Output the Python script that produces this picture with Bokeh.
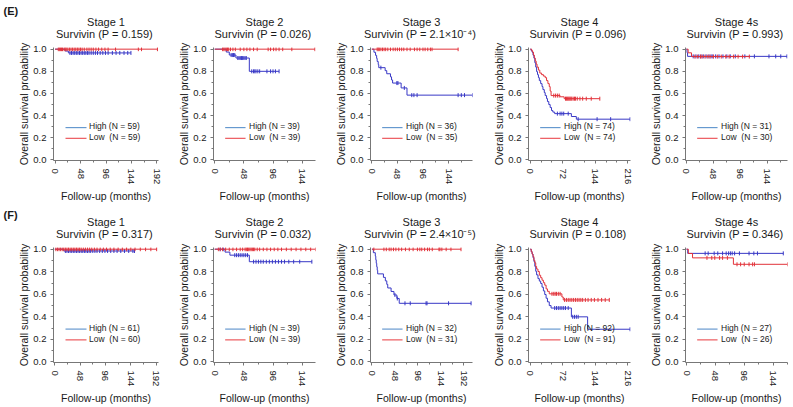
import math
from bokeh.plotting import figure
from bokeh.layouts import gridplot
from bokeh.models import (Range1d, SingleIntervalTicker, Legend, LegendItem, Title,
                          PrintfTickFormatter)
from bokeh.embed import file_html
from bokeh.resources import INLINE

FONT = "Liberation Sans"

# ---------------- data ----------------
STAGES = ["Stage 1", "Stage 2", "Stage 3", "Stage 4", "Stage 4s"]
P_E = ["0.159", "0.026", "2.1×10⁻⁴", "0.096", "0.993"]
P_F = ["0.317", "0.032", "2.4×10⁻⁵", "0.108", "0.346"]
N_HIGH_E = [59, 39, 36, 74, 31]
N_LOW_E = [59, 39, 35, 74, 30]
N_HIGH_F = [61, 39, 32, 92, 27]
N_LOW_F = [60, 39, 31, 91, 26]
X_MIN_E = [-3, -2, -2.5, -4, -1.7]
X_MAX_E = [195, 166, 189, 222, 180]
X_MIN_F = [-2.5, -2, -3, -4, -1.7]
X_MAX_F = [196.5, 166, 210, 222, 168]
X_TICK_STEP = [48, 48, 48, 72, 48]

# (E) row: event times (months), survival after each event, censor times
E1_HIGH_T = [19, 25]
E1_HIGH_S = [0.983, 0.966]
E1_HIGH_C = [28, 31, 34, 37, 40, 43, 46, 49, 52, 55, 58, 61, 64, 68, 72, 76, 80, 85, 90,
             95, 100, 108, 115, 122, 130, 137, 143]
E1_LOW_T = []
E1_LOW_S = []
E1_LOW_C = [6, 8, 10, 12, 14, 17, 19, 21, 24, 27, 30, 33, 36, 39, 42, 45, 48, 51, 55, 60,
            64, 68, 72, 77, 82, 88, 94, 100, 114, 157, 163, 193]

E2_HIGH_T = [19, 24, 35, 57]
E2_HIGH_S = [0.974, 0.947, 0.920, 0.800]
E2_HIGH_C = [27, 29, 31, 33, 38, 40, 42, 44, 46, 48, 50, 52, 61, 64, 66, 68, 71, 74, 86,
             92, 96, 100, 106]
E2_LOW_T = []
E2_LOW_S = []
E2_LOW_C = [13, 15, 17, 19, 21, 23, 26, 30, 34, 42, 48, 53, 58, 64, 70, 88, 92, 97, 101,
            106, 112, 127, 165]

E3_HIGH_T = [4, 7, 9, 10, 12, 13, 25, 28, 35, 37, 39, 55, 66]
E3_HIGH_S = [0.972, 0.944, 0.917, 0.889, 0.861, 0.833, 0.806, 0.778, 0.750, 0.722, 0.694,
             0.650, 0.585]
E3_HIGH_C = [17, 47, 49, 61, 75, 79, 85, 162, 168, 174, 189]
E3_LOW_T = []
E3_LOW_S = []
E3_LOW_C = [10, 12, 14, 17, 20, 23, 26, 30, 35, 40, 44, 48, 52, 56, 60, 66, 72, 80, 85,
            90, 96, 100, 105, 110, 113, 162]

E4_HIGH_T = [2, 4, 6, 8, 10, 12, 14, 16, 18, 20, 23, 26, 28, 31, 33, 36, 38, 41, 44, 47,
             50, 54, 91, 102]
E4_HIGH_S = [0.986, 0.973, 0.946, 0.919, 0.878, 0.838, 0.797, 0.770, 0.743, 0.716, 0.689,
             0.662, 0.635, 0.608, 0.581, 0.554, 0.527, 0.500, 0.473, 0.446, 0.432, 0.418,
             0.392, 0.368]
E4_HIGH_C = [60, 66, 70, 74, 84, 106, 148, 178, 221]
E4_LOW_T = [3, 5, 7, 9, 11, 13, 15, 18, 21, 25, 29, 33, 36, 39, 42, 44, 46, 66, 75]
E4_LOW_S = [0.986, 0.973, 0.946, 0.919, 0.892, 0.865, 0.838, 0.811, 0.784, 0.770, 0.757,
            0.743, 0.716, 0.689, 0.662, 0.622, 0.581, 0.570, 0.553]
E4_LOW_C = [52, 56, 60, 64, 78, 80, 82, 84, 86, 88, 90, 92, 95, 98, 100, 104, 110, 116,
            124, 135, 154]

E5_HIGH_T = [1, 2]
E5_HIGH_S = [0.968, 0.935]
E5_HIGH_C = [12, 17, 22, 26, 30, 35, 40, 44, 47, 52, 58, 65, 72, 78, 87, 104, 121, 147,
             159, 168, 179]
E5_LOW_T = [3, 9]
E5_LOW_S = [0.967, 0.933]
E5_LOW_C = [15, 20, 25, 28, 33, 38, 42, 48, 55, 62, 70, 76, 84, 92, 100, 112]

# (F) row
F1_HIGH_T = [17]
F1_HIGH_S = [0.984]
F1_HIGH_C = [20, 23, 26, 29, 32, 35, 38, 41, 44, 47, 50, 53, 56, 59, 62, 65, 68, 72, 76,
             80, 85, 90, 95, 100, 106, 112, 118, 125, 132, 140, 148, 151]
F1_LOW_T = []
F1_LOW_S = []
F1_LOW_C = [2, 5, 8, 11, 14, 17, 20, 23, 26, 29, 32, 35, 38, 41, 44, 47, 50, 54, 58, 62,
            66, 70, 75, 80, 86, 92, 98, 105, 112, 120, 128, 136, 144, 152, 162, 172, 182,
            193]

F2_HIGH_T = [17, 25, 57]
F2_HIGH_S = [0.974, 0.947, 0.889]
F2_HIGH_C = [9, 14, 33, 36, 39, 42, 45, 48, 51, 54, 64, 68, 72, 76, 80, 85, 90, 95, 100,
             105, 110, 115, 122, 130, 140, 160]
F2_LOW_T = []
F2_LOW_S = []
F2_LOW_C = [6, 9, 13, 18, 24, 30, 36, 42, 46, 50, 52, 54, 56, 58, 60, 62, 64, 66, 70, 74,
            80, 86, 92, 98, 104, 110, 118, 126, 134, 142, 150, 158, 166]

F3_HIGH_T = [3, 7, 8, 9, 10, 11, 12, 24, 28, 31, 33, 40, 46, 52, 57]
F3_HIGH_S = [0.969, 0.938, 0.906, 0.875, 0.844, 0.813, 0.781, 0.750, 0.719, 0.688, 0.656,
             0.625, 0.594, 0.563, 0.520]
F3_HIGH_C = [48, 53, 69, 80, 113, 115, 160, 207]
F3_LOW_T = []
F3_LOW_S = []
F3_LOW_C = [4, 25, 30, 36, 40, 45, 50, 56, 62, 70, 78, 86, 95, 100, 104, 110, 116, 120,
            126, 140, 142, 146, 155, 165, 186]

F4_HIGH_T = [2, 4, 6, 8, 10, 12, 14, 17, 20, 23, 26, 29, 32, 35, 38, 42, 46, 91, 127]
F4_HIGH_S = [0.978, 0.957, 0.924, 0.891, 0.848, 0.804, 0.772, 0.739, 0.717, 0.696, 0.663,
             0.630, 0.598, 0.565, 0.533, 0.500, 0.478, 0.400, 0.290]
F4_HIGH_C = [54, 58, 62, 66, 70, 74, 78, 84, 94, 98, 102, 106, 221]
F4_LOW_T = [2, 4, 6, 8, 10, 12, 14, 17, 20, 23, 26, 29, 32, 35, 38, 42, 70, 73]
F4_LOW_S = [0.978, 0.956, 0.934, 0.901, 0.879, 0.846, 0.824, 0.802, 0.769, 0.747, 0.725,
            0.703, 0.681, 0.648, 0.626, 0.604, 0.576, 0.550]
F4_LOW_C = [48, 52, 55, 58, 62, 66, 76, 80, 84, 88, 92, 96, 100, 104, 108, 112, 116, 122,
            128, 135, 142, 150, 158, 166, 175]

F5_HIGH_T = [2]
F5_HIGH_S = [0.963]
F5_HIGH_C = [31, 36, 46, 52, 60, 66, 70, 73, 76, 80, 88, 104, 112, 118, 161]
F5_LOW_T = [3, 10, 78]
F5_LOW_S = [0.962, 0.923, 0.866]
F5_LOW_C = [34, 42, 47, 55, 60, 68, 84, 90, 96, 104, 110, 113, 168]

ROW_E = [
    (E1_HIGH_T, E1_HIGH_S, E1_HIGH_C, E1_LOW_T, E1_LOW_S, E1_LOW_C),
    (E2_HIGH_T, E2_HIGH_S, E2_HIGH_C, E2_LOW_T, E2_LOW_S, E2_LOW_C),
    (E3_HIGH_T, E3_HIGH_S, E3_HIGH_C, E3_LOW_T, E3_LOW_S, E3_LOW_C),
    (E4_HIGH_T, E4_HIGH_S, E4_HIGH_C, E4_LOW_T, E4_LOW_S, E4_LOW_C),
    (E5_HIGH_T, E5_HIGH_S, E5_HIGH_C, E5_LOW_T, E5_LOW_S, E5_LOW_C),
]
ROW_F = [
    (F1_HIGH_T, F1_HIGH_S, F1_HIGH_C, F1_LOW_T, F1_LOW_S, F1_LOW_C),
    (F2_HIGH_T, F2_HIGH_S, F2_HIGH_C, F2_LOW_T, F2_LOW_S, F2_LOW_C),
    (F3_HIGH_T, F3_HIGH_S, F3_HIGH_C, F3_LOW_T, F3_LOW_S, F3_LOW_C),
    (F4_HIGH_T, F4_HIGH_S, F4_HIGH_C, F4_LOW_T, F4_LOW_S, F4_LOW_C),
    (F5_HIGH_T, F5_HIGH_S, F5_HIGH_C, F5_LOW_T, F5_LOW_S, F5_LOW_C),
]

# ---------------- layout / style ----------------
CURVE_BLUE = "#3838c6"
CURVE_RED = "#e2323a"
LEG_BLUE = "#4a86c6"
LEG_RED = "#e8383e"
TEXT = "#1a1a1a"
AXIS = "#777777"

COL_W = [175, 157, 158, 157, 146]
LEFT_B = [53, 35, 35, 35, 35]
FRAME_W = 105
FRAME_H = 117
Y_LO, Y_HI = -0.005, 1.015
PLOT_H = [205, 202]
TOP_B = [47, 42]
SUB_STANDOFF = [11, 12]
STAGE_STANDOFF = [-10, -12]
TAG_STANDOFF = [3, -2]
LEG_X = 12          # key line start, px from frame left
LEG_KEY_W = 21      # key line length, px
LEG_Y_HIGH = 29     # legend row bottom, px above frame bottom
LEG_Y_LOW = 18
LEG_ROW = 10


def km_xy(t, s, c):
    end = max([0] + list(t) + list(c))
    xs = [0] + list(t) + [end]
    ys = [1.0] + list(s) + [s[-1] if s else 1.0]
    return xs, ys


def surv_at(x, t, s):
    v = 1.0
    for ti, si in zip(t, s):
        if ti <= x:
            v = si
    return v


def title(text, standoff, align="center", offset=2.5, style="normal", valign="bottom"):
    return Title(text=text, align=align, offset=offset, standoff=standoff,
                 vertical_align=valign,
                 text_font=FONT, text_font_size="11px", text_font_style=style,
                 text_color=TEXT)


def legend(item, y):
    # text-only legend row; its key line is drawn separately as a segment
    return Legend(items=[item], location=(LEG_X + LEG_KEY_W + 3, y), glyph_width=0,
                  glyph_height=LEG_ROW, label_height=LEG_ROW, label_standoff=0,
                  spacing=0, padding=0, margin=0,
                  border_line_alpha=0, background_fill_alpha=0,
                  label_text_font=FONT, label_text_font_size="8.5px",
                  label_text_color=TEXT)


def panel(r, i, curves, pval, n_hi, n_lo, xmin, xmax, tag):
    h = PLOT_H[r]
    p = figure(width=COL_W[i], height=h, output_backend="svg", toolbar_location=None,
               title=None,
               x_range=Range1d(xmin, xmax), y_range=Range1d(Y_LO, Y_HI),
               min_border_left=LEFT_B[i], min_border_right=COL_W[i] - LEFT_B[i] - FRAME_W,
               min_border_top=TOP_B[r], min_border_bottom=h - TOP_B[r] - FRAME_H,
               background_fill_color="white", border_fill_color="white")
    p.outline_line_color = None
    p.xgrid.visible = False
    p.ygrid.visible = False

    step = X_TICK_STEP[i]
    p.xaxis.ticker = SingleIntervalTicker(interval=step, num_minor_ticks=step // 24)
    p.yaxis.ticker = SingleIntervalTicker(interval=0.2, num_minor_ticks=2)
    p.yaxis.formatter = PrintfTickFormatter(format="%.1f")
    p.xaxis.major_label_orientation = -math.pi / 2
    for ax in (p.xaxis, p.yaxis):
        ax.axis_line_color = AXIS
        ax.major_tick_line_color = AXIS
        ax.minor_tick_line_color = AXIS
        ax.major_tick_in = 0
        ax.major_tick_out = 3
        ax.minor_tick_in = 0
        ax.minor_tick_out = 2
        ax.major_label_text_font = FONT
        ax.major_label_text_font_size = "9.5px"
        ax.major_label_text_color = TEXT
        ax.axis_label_text_font = FONT
        ax.axis_label_text_font_style = "normal"
        ax.axis_label_text_color = TEXT
        ax.axis_label_text_font_size = "10.5px"
    p.xaxis.major_label_standoff = 5
    p.yaxis.major_label_standoff = 4
    p.xaxis.axis_label = "Follow-up (months)"
    p.xaxis.axis_label_standoff = 3
    p.yaxis.axis_label = "Overall survival probability"
    p.yaxis.axis_label_standoff = 0

    ht, hs, hc, lt, ls, lc = curves
    steps = []
    for (t, s, c, col) in ((ht, hs, hc, CURVE_BLUE), (lt, ls, lc, CURVE_RED)):
        xs, ys = km_xy(t, s, c)
        steps.append(p.step(xs, ys, mode="after", line_color=col, line_width=1))
        p.scatter(c, [surv_at(x, t, s) for x in c], marker="dash", angle=math.pi / 2,
                  size=4, line_color=col, line_width=1)

    # legend key lines, placed in frame pixels converted through the axis ranges
    kx0 = xmin + LEG_X / FRAME_W * (xmax - xmin)
    kx1 = xmin + (LEG_X + LEG_KEY_W) / FRAME_W * (xmax - xmin)
    for y, col in ((LEG_Y_HIGH, LEG_BLUE), (LEG_Y_LOW, LEG_RED)):
        ky = Y_LO + (y + LEG_ROW / 2) / FRAME_H * (Y_HI - Y_LO)
        p.segment(x0=[kx0], y0=[ky], x1=[kx1], y1=[ky], line_color=col, line_width=1)

    p.add_layout(legend(LegendItem(label=f"High (N = {n_hi})", renderers=[steps[0]]),
                        LEG_Y_HIGH))
    p.add_layout(legend(LegendItem(label=f"Low  (N = {n_lo})", renderers=[steps[1]]),
                        LEG_Y_LOW))

    # stacked titles: subtitle nearest the frame, then stage, then panel tag
    p.add_layout(title(f"Survivin  (P = {pval})", SUB_STANDOFF[r], valign="top"), "above")
    p.add_layout(title(STAGES[i], STAGE_STANDOFF[r]), "above")
    if tag is not None:
        p.add_layout(title(tag, TAG_STANDOFF[r], align="left", offset=-(LEFT_B[i] - 3),
                           style="bold"), "above")
    return p


rows = []
for r, (rowdata, pv, nh, nl, xmn, xmx, tag) in enumerate([
        (ROW_E, P_E, N_HIGH_E, N_LOW_E, X_MIN_E, X_MAX_E, "(E)"),
        (ROW_F, P_F, N_HIGH_F, N_LOW_F, X_MIN_F, X_MAX_F, "(F)")]):
    rows.append([panel(r, i, rowdata[i], pv[i], nh[i], nl[i], xmn[i], xmx[i],
                       tag if i == 0 else None) for i in range(5)])

grid = gridplot(rows, toolbar_location=None)

open("out.html", "w").write(file_html(grid, INLINE))
